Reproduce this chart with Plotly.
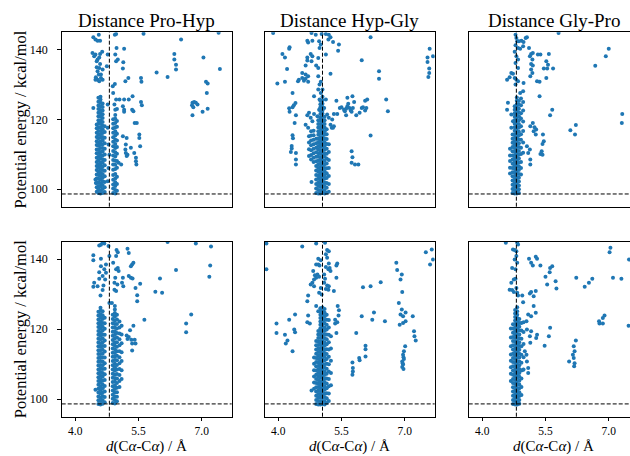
import plotly.graph_objects as go

# ---------------- data ----------------
titles = ["Distance Pro-Hyp", "Distance Hyp-Gly", "Distance Gly-Pro"]
x_ticks = [4.0, 5.5, 7.0]
x_ticklabels = ["4.0", "5.5", "7.0"]
y_ticks = [100, 120, 140]
e_min = 98.65
ref_dist = [4.81, 5.05, 4.81]

# dense bands: x position -> energies
p1_band = {
    4.51: [99.3, 100.6, 101.8, 103.1, 104.2, 105.5, 106.7, 107.8, 109.0, 110.3, 111.4, 112.7, 113.8, 115.0, 116.2, 117.5, 118.6],
    4.55: [98.9, 99.9, 100.9, 102.0, 103.0, 104.1, 105.1, 106.2, 107.2, 108.3, 109.3, 110.4, 111.4, 112.5, 113.5, 114.6, 115.6, 116.7, 117.7, 118.8, 119.8, 120.9, 121.9, 123.0, 124.0, 125.1, 126.2],
    4.60: [98.8, 99.7, 100.8, 101.7, 102.8, 103.8, 104.7, 105.8, 106.8, 107.7, 108.8, 109.8, 110.7, 111.8, 112.8, 113.7, 114.8, 115.8, 116.7, 117.8, 118.8, 119.7, 120.8, 121.8, 122.7, 123.8, 124.8, 125.7, 126.5],
    4.65: [98.9, 100.1, 101.2, 102.3, 103.3, 104.4, 105.5, 106.5, 107.6, 108.6, 109.7, 110.8, 111.8, 112.9, 114.0, 115.0, 116.1, 117.2, 118.2, 119.3, 120.4, 121.5, 122.6, 123.6, 124.6],
    4.70: [99.2, 100.6, 102.1, 103.7, 105.3, 106.9, 108.4, 110.0, 111.6, 113.2, 114.8, 116.4, 118.1],
    4.90: [98.9, 100.2, 101.4, 102.7, 104.1, 105.6, 107.1, 108.4, 109.7, 111.0, 112.3, 113.6, 114.9, 116.2, 117.5, 118.8, 120.1],
    4.95: [98.8, 99.8, 100.9, 102.0, 103.1, 104.4, 105.8, 107.0, 108.2, 109.4, 110.6, 111.8, 113.0, 114.2, 115.4, 116.6, 117.8, 119.0, 120.2, 121.3],
    4.99: [99.6, 101.5, 103.6, 106.2, 108.1, 110.2, 112.1, 114.0, 115.9, 117.9, 119.6],
}
p1_pts = [
    (4.43, 143.6), (4.48, 142.9), (4.53, 142.6), (4.59, 142.6), (4.56, 144.3),
    (4.41, 139.1), (4.48, 138.6), (4.53, 137.2), (4.57, 137.8), (4.51, 136.7), (4.59, 138.8), (4.64, 139.4), (4.45, 138.1),
    (4.49, 132.1), (4.53, 131.4), (4.57, 131.0), (4.61, 131.9), (4.53, 133.8), (4.57, 134.8), (4.65, 134.3), (4.56, 132.9),
    (4.61, 132.9), (4.51, 135.0), (4.48, 131.4), (4.65, 131.4), (4.59, 135.9),
    (4.43, 123.3), (4.48, 102.8), (4.49, 101.8),
    (4.77, 117.6), (4.79, 112.8), (4.81, 109.9), (4.77, 124.3), (4.75, 135.3), (4.77, 138.6), (4.79, 106.1), (4.77, 102.3),
    (4.95, 122.8), (4.99, 123.0), (4.93, 124.3), (4.90, 127.6), (4.89, 129.5), (4.94, 130.2), (4.97, 136.7), (5.01, 137.2),
    (4.95, 138.6), (4.98, 140.5), (4.94, 144.3), (4.97, 144.5),
    (5.16, 140.3), (5.14, 136.4), (5.13, 134.6), (5.19, 131.0), (5.26, 131.9), (4.97, 125.7), (5.05, 125.7), (5.16, 125.7),
    (5.27, 125.7), (5.36, 126.7), (5.13, 123.8), (5.16, 122.8), (5.16, 122.2), (5.35, 122.8), (5.38, 122.4), (5.41, 119.0),
    (5.46, 119.0), (5.56, 125.0), (5.58, 124.1), (5.56, 131.9), (5.57, 130.8),
    (5.13, 115.2), (5.22, 114.7), (5.20, 112.8), (5.19, 111.4), (5.20, 110.4), (5.24, 109.9), (5.22, 109.5), (5.32, 111.9),
    (5.40, 110.4), (5.44, 109.0), (5.44, 108.0), (5.45, 107.1), (5.52, 115.7), (5.52, 114.7), (5.54, 112.3), (5.03, 107.6), (5.09, 107.1),
    (5.62, 144.6), (6.51, 142.9), (6.35, 138.8), (6.35, 137.2), (6.39, 135.7), (6.39, 134.3), (5.93, 133.5), (6.19, 132.2),
    (7.40, 144.9), (7.04, 137.8), (7.43, 134.5), (7.10, 130.8), (7.14, 130.3), (7.12, 127.6), (6.78, 124.8), (6.82, 125.0),
    (6.86, 124.8), (6.77, 124.1), (6.80, 123.5), (6.90, 124.3), (6.78, 121.2), (7.02, 122.2), (7.14, 123.1),
]

p2_band = {
    4.73: [109.5, 111.5, 113.4, 115.2],
    4.78: [108.5, 109.8, 111.2, 112.6, 114.0, 115.4, 116.6],
    4.84: [107.8, 109.0, 110.3, 111.6, 112.9, 114.2, 115.5, 116.8],
    4.90: [98.9, 100.2, 101.5, 102.8, 104.1, 105.4, 106.7, 108.0, 109.3, 110.6, 111.9, 113.2, 114.5],
    4.95: [98.8, 99.8, 100.9, 101.9, 103.0, 104.0, 105.1, 106.1, 107.2, 108.2, 109.3, 110.3, 111.4, 112.4, 113.5, 114.5, 115.6, 116.6, 117.7, 118.7, 119.8],
    5.00: [98.8, 99.7, 100.7, 101.6, 102.6, 103.5, 104.5, 105.4, 106.4, 107.3, 108.3, 109.2, 110.2, 111.1, 112.1, 113.0, 114.0, 114.9, 115.9, 116.8, 117.8, 118.7, 119.7, 120.6, 121.6, 122.5, 123.5, 124.4, 125.4],
    5.05: [98.9, 99.8, 100.8, 101.7, 102.7, 103.6, 104.6, 105.5, 106.5, 107.4, 108.4, 109.3, 110.3, 111.2, 112.2, 113.1, 114.1, 115.0, 116.0, 116.9, 117.9, 118.8, 119.8, 120.7, 121.7, 122.6, 123.6, 124.5, 125.5, 126.5],
    5.10: [98.8, 99.8, 100.9, 101.9, 103.0, 104.0, 105.1, 106.1, 107.2, 108.2, 109.3, 110.3, 111.4, 112.4, 113.5, 114.5, 115.6, 116.6, 117.7, 118.7, 119.8, 120.8],
    5.15: [99.0, 100.4, 101.8, 103.2, 104.6, 106.0, 107.4, 108.8, 110.2, 111.6, 113.0, 114.4, 115.8, 117.2],
    5.20: [99.3, 101.5, 103.8, 106.1, 108.4, 110.7, 112.9],
}
p2_pts = [
    (3.88, 144.8), (4.79, 144.8), (4.89, 144.3), (5.03, 144.5), (5.13, 144.5), (5.20, 144.3), (5.24, 143.6), (5.19, 142.9),
    (4.69, 142.6), (4.81, 142.6), (4.71, 142.1), (4.97, 142.4), (5.01, 141.5), (4.98, 140.5), (5.30, 142.2), (5.44, 141.5),
    (5.42, 139.7), (4.27, 140.7), (4.26, 140.3), (4.10, 138.8), (4.16, 137.8), (4.77, 138.8), (4.81, 138.1), (4.69, 137.8),
    (4.69, 136.9), (4.79, 136.7), (4.95, 137.6), (5.13, 138.6), (4.65, 135.5), (4.90, 135.5), (4.95, 134.8), (4.21, 134.5),
    (4.57, 133.3), (4.65, 132.9), (4.71, 132.4), (4.49, 131.4), (4.57, 131.9), (4.61, 131.1), (4.65, 131.7), (4.71, 130.8),
    (4.47, 131.0), (4.95, 132.4), (4.98, 130.0), (5.01, 130.8), (5.24, 133.1), (3.98, 130.3), (4.16, 130.8), (4.34, 127.6),
    (4.95, 128.6), (5.05, 128.6), (5.01, 127.6), (4.85, 126.7), (4.98, 125.7),
    (4.41, 124.7), (4.37, 124.1), (4.34, 123.5), (4.26, 123.2), (4.27, 122.2), (4.42, 121.2), (4.39, 119.0), (4.34, 115.5),
    (4.35, 114.6), (4.32, 112.4), (4.32, 111.7), (4.30, 110.7), (4.42, 110.4), (4.42, 108.5), (4.42, 107.1), (4.79, 102.1),
    (4.69, 121.2), (4.73, 121.9), (4.77, 120.5), (4.81, 119.5), (4.65, 118.5), (4.71, 117.6), (4.85, 121.6), (4.93, 120.9),
    (4.97, 122.8), (5.09, 123.3), (5.16, 121.4), (5.20, 120.5), (5.28, 120.0), (5.32, 118.1), (5.24, 118.5), (5.27, 117.6),
    (5.13, 125.7), (5.38, 125.4), (5.32, 121.6), (5.40, 121.6), (5.30, 117.6),
    (5.46, 123.3), (5.50, 123.5), (5.56, 122.8), (5.58, 122.4), (5.61, 123.1), (5.64, 123.8), (5.66, 124.5), (5.69, 123.3),
    (5.72, 122.6), (5.74, 122.2), (5.77, 123.3), (5.80, 125.0), (5.76, 126.7), (5.64, 126.2), (5.61, 121.2), (5.85, 121.2),
    (5.98, 123.3), (6.01, 123.5), (6.06, 122.6), (6.09, 123.3), (6.06, 125.4), (6.11, 125.7), (5.93, 121.9),
    (6.19, 115.4), (5.74, 110.9), (5.76, 109.2), (5.74, 107.6), (5.82, 107.1), (5.90, 107.1), (6.19, 143.6), (5.98, 137.0),
    (6.39, 133.8), (6.39, 131.7), (6.56, 125.7), (6.60, 122.4), (7.59, 140.3), (7.67, 138.1), (7.54, 137.8), (7.54, 136.5),
    (7.58, 134.6), (7.58, 133.3), (7.56, 132.2),
]

p3_band = {
    4.66: [104.5, 106.2, 108.1, 109.7, 111.6],
    4.72: [98.9, 100.1, 101.3, 102.5, 103.7, 104.9, 106.1, 107.3, 108.5, 109.7, 110.9, 112.1, 113.3, 114.5, 115.7],
    4.77: [98.8, 99.8, 100.8, 101.8, 102.8, 103.8, 104.8, 105.8, 106.8, 107.8, 108.8, 109.8, 110.8, 111.8, 112.8, 113.8, 114.8, 115.8, 116.8, 117.8, 118.8, 119.8, 120.8, 121.8, 122.8, 123.8],
    4.82: [98.8, 99.7, 100.7, 101.6, 102.6, 103.5, 104.5, 105.4, 106.4, 107.3, 108.3, 109.2, 110.2, 111.1, 112.1, 113.0, 114.0, 114.9, 115.9, 116.8, 117.8, 118.7, 119.7, 120.6, 121.6, 122.5, 123.5, 124.4, 125.4, 126.3],
    4.87: [98.9, 100.0, 101.1, 102.2, 103.3, 104.4, 105.5, 106.6, 107.7, 108.8, 109.9, 111.0, 112.1, 113.2, 114.3, 115.4, 116.5, 117.6, 118.7, 119.8, 120.9, 122.0, 123.1, 124.2, 125.3],
    4.92: [104.2, 106.1, 107.8, 110.1, 111.9, 114.2, 115.8, 118.1, 120.3, 121.8, 124.1, 126.0],
    4.97: [110.5, 113.4, 116.7, 119.4, 122.6, 125.0],
}
p3_pts = [
    (4.79, 144.3), (4.81, 143.4), (4.83, 142.4), (4.79, 141.3), (4.85, 140.5), (4.77, 139.4), (4.81, 138.1), (4.85, 137.2),
    (4.79, 136.2), (4.87, 142.4), (4.93, 142.6), (4.98, 142.2), (5.03, 143.4), (5.06, 143.6), (4.97, 141.0), (4.90, 140.3),
    (4.85, 134.8), (4.73, 133.1), (4.69, 133.3), (4.65, 132.1), (4.59, 131.4), (4.77, 131.9), (4.81, 131.4), (4.85, 131.0),
    (4.79, 130.0), (4.90, 127.6), (4.61, 124.8), (4.59, 122.8), (4.69, 121.4), (4.73, 119.5), (4.69, 117.6),
    (5.11, 140.5), (5.16, 138.8), (5.20, 139.1), (5.13, 138.1), (5.19, 137.2), (5.16, 135.9), (5.20, 135.5), (5.16, 134.3),
    (5.14, 132.4), (5.19, 133.3), (5.32, 138.6), (5.38, 138.6), (5.58, 138.8), (5.52, 136.7), (5.56, 135.7), (5.46, 134.6),
    (5.54, 134.6), (5.68, 134.6), (5.30, 131.0), (5.36, 130.8), (4.98, 130.5), (4.97, 128.1), (5.52, 131.9), (5.36, 126.7),
    (5.66, 122.8), (5.61, 121.2), (5.20, 119.0), (5.14, 118.1), (5.24, 117.8), (5.28, 117.1), (5.22, 116.6), (5.27, 115.7),
    (5.44, 115.7), (5.46, 113.8), (5.43, 113.0), (5.41, 110.9), (5.38, 110.1), (5.43, 109.9), (5.13, 111.4), (5.14, 108.5),
    (5.14, 107.1), (5.06, 112.3), (5.09, 110.4), (5.81, 144.8), (7.00, 140.3), (6.93, 138.1), (6.68, 135.4), (6.09, 116.9),
    (6.22, 118.4), (6.20, 115.7), (7.32, 121.6), (7.31, 119.0),
]

p4_band = {
    4.55: [98.6, 99.7, 100.8, 101.9, 103.0, 104.1, 105.2, 106.3, 107.4, 108.5, 109.6, 110.7, 111.8, 112.9, 114.0, 115.1, 116.2, 117.3, 118.4, 119.5, 120.6, 121.7, 122.8, 123.9, 125.0],
    4.60: [98.5, 99.5, 100.5, 101.6, 102.6, 103.6, 104.7, 105.7, 106.7, 107.8, 108.8, 109.8, 110.9, 111.9, 112.9, 114.0, 115.0, 116.0, 117.1, 118.1, 119.1, 120.2, 121.2, 122.2, 123.3, 124.3, 125.3, 126.1],
    4.65: [98.7, 99.8, 100.9, 102.0, 103.1, 104.2, 105.3, 106.4, 107.5, 108.6, 109.7, 110.8, 111.9, 113.0, 114.1, 115.2, 116.3, 117.4, 118.5, 119.6, 120.7, 121.8, 122.9, 124.0, 125.1],
    4.70: [99.1, 100.6, 102.2, 103.8, 105.5, 107.1, 108.7, 110.3, 111.9, 113.6, 115.2, 116.8, 118.4, 120.1, 121.7, 123.3],
    4.89: [98.9, 100.1, 101.3, 102.5, 103.7, 104.9, 106.1, 107.3, 108.5, 109.7, 110.9, 112.1, 113.3, 114.5, 115.7, 116.9, 118.1, 119.3, 120.5, 121.7, 122.9, 124.1],
    4.94: [98.8, 99.8, 100.8, 101.9, 102.9, 103.9, 105.0, 106.0, 107.0, 108.1, 109.1, 110.1, 111.2, 112.2, 113.2, 114.3, 115.3, 116.3, 117.4, 118.4, 119.4, 120.5, 121.5, 122.5, 123.6, 124.6, 125.6, 126.6],
    4.99: [99.4, 100.7, 102.0, 103.3, 104.6, 105.9, 107.2, 108.5, 109.8, 111.1, 112.4, 113.7, 115.0, 116.3, 117.6, 118.9, 120.2, 121.5, 122.8, 124.1],
    5.05: [103.5, 105.2, 106.9, 108.6, 110.3, 112.0, 113.7, 115.4, 117.1, 118.8, 120.5, 122.2],
    5.10: [105.8, 108.3, 110.9, 113.4, 116.0, 118.5, 121.0],
}
p4_pts = [
    (4.65, 144.7), (4.69, 144.5), (4.57, 143.9), (4.61, 144.1), (4.43, 141.1), (4.43, 139.7), (4.61, 140.1), (4.61, 138.0),
    (4.57, 136.3), (4.69, 137.1), (4.73, 138.5), (4.65, 135.2), (4.57, 134.4), (4.45, 133.3), (4.43, 132.1), (4.53, 132.3),
    (4.67, 132.5), (4.65, 131.2), (4.60, 129.6), (4.71, 134.2), (4.73, 136.1),
    (4.79, 143.8), (4.81, 140.9), (4.81, 127.5), (4.87, 127.5),
    (4.98, 142.6), (5.01, 142.0), (4.97, 140.9), (5.01, 137.5), (4.97, 137.1), (5.03, 136.6), (4.95, 134.7), (5.00, 132.8),
    (4.93, 131.3), (4.97, 130.9), (4.93, 133.3), (4.90, 139.0), (5.13, 134.7), (5.11, 133.3), (5.14, 132.3),
    (5.24, 143.0), (5.27, 141.8), (5.35, 138.5), (5.38, 139.0), (5.32, 138.0), (5.27, 135.2), (5.32, 134.7), (5.36, 134.5),
    (5.43, 131.8), (5.54, 133.0), (5.47, 129.7), (5.47, 128.0), (5.64, 122.7), (5.38, 121.0), (5.30, 119.7), (5.22, 118.2),
    (5.27, 117.8), (5.24, 117.2), (5.33, 117.0), (5.41, 117.0), (5.35, 115.9), (5.43, 115.9), (5.35, 113.9),
    (5.90, 130.7), (6.06, 130.4), (6.01, 134.5), (6.39, 136.9), (6.19, 144.9), (6.86, 144.5), (7.22, 143.6), (7.20, 138.2),
    (7.18, 135.0), (6.75, 124.2), (6.63, 121.6), (6.63, 119.1), (4.48, 102.7),
]

p5_band = {
    4.85: [103.0, 104.8, 106.5, 108.3, 110.1, 111.9],
    4.90: [98.6, 99.8, 101.0, 102.2, 103.4, 104.6, 105.8, 107.0, 108.2, 109.4, 110.6, 111.8, 113.0, 114.2, 115.4, 116.6],
    4.95: [98.5, 99.5, 100.5, 101.5, 102.5, 103.5, 104.5, 105.5, 106.5, 107.5, 108.5, 109.5, 110.5, 111.5, 112.5, 113.5, 114.5, 115.5, 116.5, 117.5, 118.5, 119.5],
    5.00: [98.5, 99.4, 100.4, 101.3, 102.3, 103.2, 104.2, 105.1, 106.1, 107.0, 108.0, 108.9, 109.9, 110.8, 111.8, 112.7, 113.7, 114.6, 115.6, 116.5, 117.5, 118.4, 119.4, 120.3, 121.3, 122.2, 123.2, 124.1, 125.1, 126.0],
    5.05: [98.6, 99.5, 100.5, 101.4, 102.4, 103.3, 104.3, 105.2, 106.2, 107.1, 108.1, 109.0, 110.0, 110.9, 111.9, 112.8, 113.8, 114.7, 115.7, 116.6, 117.6, 118.5, 119.5, 120.4, 121.4, 122.3, 123.3, 124.2, 125.2, 126.2],
    5.10: [98.5, 99.5, 100.6, 101.6, 102.7, 103.7, 104.8, 105.8, 106.9, 107.9, 109.0, 110.0, 111.1, 112.1, 113.2, 114.2, 115.3, 116.3, 117.4, 118.4, 119.5, 120.5, 121.6, 122.6, 123.7, 124.7, 125.8],
    5.15: [98.9, 100.3, 101.7, 103.1, 104.5, 105.9, 107.3, 108.7, 110.1, 111.5, 112.9, 114.3, 115.7, 117.1, 118.5, 119.9, 121.3, 122.7, 124.1],
    5.20: [99.5, 101.6, 103.7, 105.8, 107.9, 110.0, 112.1, 114.2, 116.3, 118.4, 120.5, 122.6],
    5.25: [104.0, 107.5, 111.0, 114.5, 118.0],
}
p5_pts = [
    (4.90, 144.5), (5.11, 144.7), (5.16, 142.6), (5.20, 142.3), (5.13, 141.4), (5.16, 140.4), (4.95, 140.1), (5.01, 139.7),
    (4.90, 138.5), (4.95, 138.5), (4.98, 138.2), (5.20, 138.8), (5.40, 138.8), (5.38, 138.2), (5.13, 137.8), (5.22, 137.5),
    (5.19, 137.1), (5.24, 136.6), (4.83, 136.6), (4.87, 135.4), (4.93, 135.6), (4.97, 135.0), (4.90, 134.7), (4.85, 134.2),
    (4.81, 133.3), (4.77, 132.8), (4.85, 132.3), (5.09, 135.6), (5.11, 134.4), (5.38, 134.7), (5.09, 133.3), (5.16, 132.5),
    (5.20, 132.3), (5.13, 131.5), (5.19, 131.3), (5.01, 131.8), (4.97, 130.4), (5.03, 129.9), (5.32, 130.9), (4.71, 129.6),
    (4.69, 128.0), (4.90, 126.6), (4.95, 125.1), (4.71, 123.9), (4.69, 122.0), (4.75, 121.6), (4.57, 143.6), (3.72, 144.5),
    (3.72, 137.1), (5.41, 126.6), (5.44, 125.4), (5.43, 123.9), (5.35, 122.7), (5.40, 122.0), (5.35, 121.6), (5.38, 118.9),
    (3.96, 121.6), (3.96, 118.9), (4.16, 118.4), (4.18, 115.9), (4.22, 116.8), (4.34, 113.7), (4.26, 122.7), (4.40, 124.2),
    (4.38, 119.9), (4.40, 119.1),
    (6.01, 132.0), (6.19, 132.3), (6.43, 133.4), (5.98, 123.7), (6.27, 124.8), (6.23, 122.7), (6.53, 122.3), (5.85, 118.9),
    (6.07, 115.3), (6.07, 114.3), (6.07, 112.2), (5.92, 111.8), (5.93, 111.1), (5.76, 110.5), (5.77, 108.9), (5.77, 107.9),
    (5.76, 107.0),
    (6.80, 139.0), (6.82, 136.9), (6.93, 135.6), (6.90, 134.2), (6.94, 130.6), (6.86, 127.5), (6.93, 125.6), (6.90, 124.2),
    (6.96, 123.7), (7.02, 124.8), (7.19, 123.7), (6.88, 121.3), (6.96, 121.8), (7.02, 122.3), (7.22, 119.4), (7.23, 118.0),
    (7.26, 116.8), (7.01, 115.1), (6.98, 113.7), (6.96, 112.7), (6.98, 111.5), (6.94, 110.8), (6.96, 109.9), (6.94, 109.2),
    (6.97, 112.0), (6.95, 110.3), (6.97, 108.6),
    (7.50, 142.0), (7.64, 142.8), (7.67, 139.9), (7.60, 138.5), (4.79, 102.5),
]

p6_band = {
    4.68: [105.2, 107.3, 109.1, 111.0, 112.8, 115.1, 117.6, 120.2],
    4.73: [98.6, 99.8, 101.0, 102.2, 103.4, 104.6, 105.8, 107.0, 108.2, 109.4, 110.6, 111.8, 113.0, 114.2, 115.4, 116.6, 117.8, 119.0, 120.2, 121.4],
    4.78: [98.5, 99.5, 100.5, 101.5, 102.5, 103.5, 104.5, 105.5, 106.5, 107.5, 108.5, 109.5, 110.5, 111.5, 112.5, 113.5, 114.5, 115.5, 116.5, 117.5, 118.5, 119.5, 120.5, 121.5, 122.5, 123.5, 124.5, 125.5],
    4.83: [98.5, 99.4, 100.4, 101.3, 102.3, 103.2, 104.2, 105.1, 106.1, 107.0, 108.0, 108.9, 109.9, 110.8, 111.8, 112.7, 113.7, 114.6, 115.6, 116.5, 117.5, 118.4, 119.4, 120.3, 121.3, 122.2, 123.2, 124.1, 125.1, 126.3],
    4.88: [98.7, 99.8, 100.9, 102.0, 103.1, 104.2, 105.3, 106.4, 107.5, 108.6, 109.7, 110.8, 111.9, 113.0, 114.1, 115.2, 116.3, 117.4, 118.5, 119.6, 120.7, 121.8, 122.9],
    4.93: [101.2, 103.5, 105.9, 108.2, 110.4, 112.7, 115.1, 117.3, 119.6, 121.8],
    4.98: [108.5, 112.0, 115.8, 119.2, 122.0],
}
p6_pts = [
    (4.56, 144.7), (4.73, 142.8), (4.77, 142.6), (4.83, 144.7), (4.85, 144.2), (4.81, 142.3), (4.77, 139.9), (4.81, 140.9),
    (4.83, 139.0), (4.71, 137.5), (4.79, 137.1), (4.75, 134.2), (4.79, 134.4), (4.69, 133.3), (4.65, 131.3), (4.71, 131.2),
    (4.75, 130.6), (4.81, 131.8), (4.83, 130.4), (4.85, 129.6), (4.95, 129.6), (4.97, 127.7),
    (5.11, 140.1), (5.16, 139.0), (5.27, 140.7), (5.30, 140.1), (5.38, 138.2), (5.66, 138.0), (5.61, 137.5), (5.60, 136.3),
    (5.50, 135.0), (5.54, 132.8), (5.74, 133.7), (5.76, 131.6), (5.20, 138.2), (5.22, 129.4), (5.27, 130.9), (5.16, 130.6),
    (5.13, 130.2), (5.61, 120.4), (5.58, 118.0), (5.48, 115.3), (5.22, 126.6), (5.27, 124.7), (5.09, 124.2), (5.16, 123.7),
    (5.05, 122.3), (5.06, 119.9), (5.16, 119.4), (5.13, 118.0), (5.30, 118.4), (5.28, 117.5), (5.14, 116.1), (5.01, 113.7),
    (5.05, 112.7), (5.06, 110.8), (5.09, 108.9), (5.09, 107.5), (4.97, 108.4),
    (6.23, 134.7), (6.43, 132.1), (6.53, 133.3), (6.61, 134.4), (7.10, 134.7), (7.30, 134.4), (7.04, 143.3), (7.02, 142.0),
    (7.48, 139.9), (6.77, 122.3), (6.78, 121.6), (6.86, 121.6), (6.90, 123.9), (6.86, 123.2), (7.47, 121.0),
    (6.22, 116.8), (6.17, 115.1), (6.19, 113.7), (6.15, 112.7), (6.17, 111.8), (6.06, 110.8), (6.19, 110.3), (6.18, 109.4),
]

bands = [p1_band, p2_band, p3_band, p4_band, p5_band, p6_band]
points = [p1_pts, p2_pts, p3_pts, p4_pts, p5_pts, p6_pts]

# ---------------- layout geometry ----------------
W, H = 630, 456
col_px = [(61.7, 231.7), (264.7, 434.7), (468.7, 630.0)]
row_px = [(32.3, 206.7), (241.7, 416.7)]
x_lo, x_hi = 3.68, 7.71
px_per_unit = 170.0 / (x_hi - x_lo)
FONT = "Liberation Serif"
BLUE = "#1f77b4"

fig = go.Figure()
layout = dict(
    width=W, height=H, margin=dict(l=0, r=0, t=0, b=0),
    paper_bgcolor="white", plot_bgcolor="white", showlegend=False,
    font=dict(family=FONT, color="black"),
)
shapes = []
annotations = []

for r in range(2):
    for c in range(3):
        i = r * 3 + c
        n = i + 1
        sfx = "" if n == 1 else str(n)
        xs, ys = [], []
        for xv, yl in bands[i].items():
            for yv in yl:
                xs.append(xv)
                ys.append(yv)
        for xv, yv in points[i]:
            xs.append(xv)
            ys.append(yv)
        fig.add_trace(go.Scatter(
            x=xs, y=ys, mode="markers", xaxis=f"x{sfx}", yaxis=f"y{sfx}",
            marker=dict(size=4, color=BLUE, line=dict(width=0)),
            hoverinfo="skip",
        ))
        l, rr = col_px[c]
        t, b = row_px[r]
        xmax = x_lo + (rr - l) / px_per_unit
        xa = dict(
            domain=[l / W, rr / W], range=[x_lo, xmax], anchor=f"y{sfx}",
            showline=True, linecolor="black", linewidth=1, mirror=True,
            showgrid=False, zeroline=False,
            tickvals=x_ticks, ticktext=x_ticklabels,
            ticks="outside" if r == 1 else "", ticklen=3.5, tickwidth=0.8, tickcolor="black",
            showticklabels=(r == 1), tickfont=dict(size=11.5, family=FONT),
        )
        ya = dict(
            domain=[1 - b / H, 1 - t / H], range=[95, 145], anchor=f"x{sfx}",
            showline=True, linecolor="black", linewidth=1, mirror=(c != 2),
            showgrid=False, zeroline=False,
            tickvals=y_ticks,
            ticks="outside" if c == 0 else "", ticklen=3.5, tickwidth=0.8, tickcolor="black",
            showticklabels=(c == 0), tickfont=dict(size=12, family=FONT),
            ticklabelstandoff=7,
        )
        layout[f"xaxis{sfx}"] = xa
        layout[f"yaxis{sfx}"] = ya
        dash = dict(color="black", width=1, dash="4px,2px")
        shapes.append(dict(type="line", xref=f"x{sfx}", yref=f"y{sfx} domain",
                           x0=ref_dist[c], x1=ref_dist[c], y0=0, y1=1, line=dash))
        shapes.append(dict(type="line", xref=f"x{sfx} domain", yref=f"y{sfx}",
                           x0=0, x1=1, y0=e_min, y1=e_min, line=dash))

col_centres = [146.7, 349.7, 553.7]
for c in range(3):
    annotations.append(dict(text=titles[c], xref="paper", yref="paper",
                            x=col_centres[c] / W, y=1 - 20 / H, showarrow=False,
                            xanchor="center", yanchor="middle",
                            font=dict(size=19, family=FONT, color="black")))
    annotations.append(dict(text="<i>d</i>(C<i>α</i>-C<i>α</i>) / Å", xref="paper", yref="paper",
                            x=col_centres[c] / W, y=0, showarrow=False,
                            xanchor="center", yanchor="bottom", borderpad=0,
                            font=dict(size=15, family=FONT, color="black")))
for r in range(2):
    t, b = row_px[r]
    annotations.append(dict(text="Potential energy / kcal/mol", xref="paper", yref="paper",
                            x=20 / W, y=1 - ((t + b) / 2) / H, showarrow=False, textangle=-90,
                            xanchor="center", yanchor="middle",
                            font=dict(size=16.5, family=FONT, color="black")))

layout["shapes"] = shapes
layout["annotations"] = annotations
fig.update_layout(**layout)
fig.write_html("out.html")
